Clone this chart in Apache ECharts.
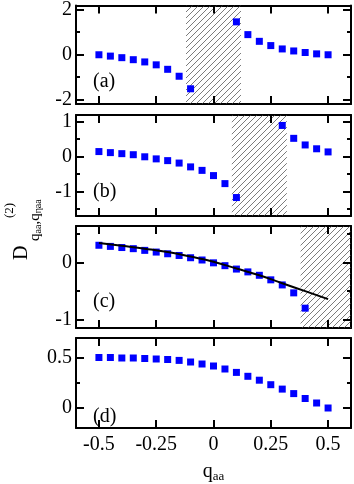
<!DOCTYPE html>
<html>
<head>
<meta charset="utf-8">
<script src="https://cdn.jsdelivr.net/npm/echarts@6/dist/echarts.min.js"></script>
<style>
  html, body { margin: 0; padding: 0; background: #fff; }
  #main { width: 354px; height: 484px; }
</style>
</head>
<body>
<div id="main"></div>
<script>
// q_aa values shared by every panel
const qaa = [-0.5, -0.45, -0.4, -0.35, -0.3, -0.25, -0.2, -0.15, -0.1, -0.05, 0,
             0.05, 0.1, 0.15, 0.2, 0.25, 0.3, 0.35, 0.4, 0.45, 0.5];

// D values (null = no point drawn)
const panelA = [0.0, -0.06, -0.13, -0.22, -0.32, -0.45, -0.65, -0.96, -1.52, null, null,
                null, 1.47, 0.90, 0.60, 0.41, 0.26, 0.17, 0.10, 0.04, 0.0];
const panelB = [0.15, 0.12, 0.09, 0.06, 0.0, -0.06, -0.11, -0.18, -0.29, -0.39, -0.54,
                -0.77, -1.17, null, null, null, 0.90, 0.53, 0.34, 0.23, 0.14];
const panelC = [0.31, 0.29, 0.27, 0.25, 0.22, 0.19, 0.16, 0.13, 0.09, 0.05, 0.0,
                -0.05, -0.11, -0.16, -0.22, -0.30, -0.39, -0.53, -0.80, null, null];
const panelD = [0.505, 0.505, 0.50, 0.50, 0.495, 0.49, 0.485, 0.476, 0.46, 0.44, 0.42,
                0.39, 0.356, 0.317, 0.278, 0.233, 0.189, 0.144, 0.095, 0.05, 0.0];

// solid curve in panel (c)
const fitX = [-0.5, -0.4, -0.3, -0.2, -0.1, 0, 0.1, 0.2, 0.3, 0.4, 0.5];
const fitY = [0.35, 0.30, 0.25, 0.19, 0.11, 0.02, -0.10, -0.22, -0.36, -0.50, -0.64];

// hatched q_aa ranges
const hatchA = [-0.12, 0.12];
const hatchB = [0.08, 0.32];
const hatchC = [0.38, 0.6];

// axes
const xRange = [-0.6, 0.6];
const xTicks = [-0.5, -0.25, 0, 0.25, 0.5];
const yRanges = [[-2.2, 2.2], [-1.7, 1.2], [-1.15, 0.65], [-0.2, 0.7]];
const yMajor = [[-2, 0, 2], [-1, 0, 1], [-1, 0], [0, 0.5]];
const yMinor = [[-1, 1], [-1.5, -0.5, 0.5], [-0.5, 0.5], [0.25]];
const panelTags = ['(a)', '(b)', '(c)', '(d)'];

const font = '"Liberation Serif", serif';
const gridBoxes = [
    { top: 4, height: 100 },
    { top: 115, height: 101 },
    { top: 226, height: 102 },
    { top: 338, height: 101 }
];

function hatchPattern() {
    const c = document.createElement('canvas');
    c.width = 6;
    c.height = 6;
    const ctx = c.getContext('2d');
    ctx.strokeStyle = '#444';
    ctx.lineWidth = 0.7;
    ctx.beginPath();
    ctx.moveTo(-1, 7); ctx.lineTo(7, -1);
    ctx.moveTo(-1, 1); ctx.lineTo(1, -1);
    ctx.moveTo(5, 7); ctx.lineTo(7, 5);
    ctx.stroke();
    return c;
}
const hatchFill = { image: hatchPattern(), repeat: 'repeat' };

function pairs(xs, ys) {
    const out = [];
    ys.forEach((v, i) => { if (v !== null) out.push([xs[i], v]); });
    return out;
}

function axisLine() {
    return { show: true, onZero: false, lineStyle: { color: '#000', width: 2 } };
}
function labels(show, values, margin) {
    return { show: show, customValues: values, margin: margin,
             fontFamily: font, fontSize: 20, color: '#000' };
}

// inward ticks on all four sides, placed through the axes' scales
function tickItem(params, api) {
    const cs = params.coordSys;
    const isY = api.value(0) === 1;
    const v = api.value(1);
    const len = api.value(2) === 1 ? 4 : 8;
    const style = { fill: '#000' };
    const out = [];
    if (!isY) {
        const px = Math.round(api.coord([v, 0])[0]);
        out.push({ type: 'rect', shape: { x: px - 1, y: cs.y + cs.height - len, width: 2, height: len }, style });
        out.push({ type: 'rect', shape: { x: px - 1, y: cs.y, width: 2, height: len }, style });
    } else {
        const py = Math.round(api.coord([0, v])[1]);
        out.push({ type: 'rect', shape: { x: cs.x, y: py - 1, width: len, height: 2 }, style });
        out.push({ type: 'rect', shape: { x: cs.x + cs.width - len, y: py - 1, width: len, height: 2 }, style });
    }
    return { type: 'group', children: out };
}

const grids = [], xAxes = [], yAxes = [], series = [];
gridBoxes.forEach((g, i) => {
    grids.push({ left: 76, right: 3, top: g.top, height: g.height });
    const isLast = i === 3;
    ['bottom', 'top'].forEach(pos => {
        const withLabel = isLast && pos === 'bottom';
        xAxes.push({
            type: 'value', gridIndex: i, position: pos, min: xRange[0], max: xRange[1],
            axisLine: axisLine(),
            axisTick: { show: false },
            axisLabel: labels(withLabel, xTicks, 7),
            splitLine: { show: false },
            name: withLabel ? '{q|q}{s|aa}' : '',
            nameLocation: 'middle', nameGap: 32,
            nameTextStyle: {
                rich: {
                    q: { fontFamily: font, fontSize: 20, color: '#000' },
                    s: { fontFamily: font, fontSize: 13, color: '#000', padding: [10, 0, 0, 0] }
                }
            }
        });
    });
    ['left', 'right'].forEach(pos => {
        yAxes.push({
            type: 'value', gridIndex: i, position: pos,
            min: yRanges[i][0], max: yRanges[i][1],
            axisLine: axisLine(),
            axisTick: { show: false },
            axisLabel: labels(pos === 'left', yMajor[i], 4),
            splitLine: { show: false }
        });
    });

    const tickData = [];
    xTicks.forEach(v => tickData.push([0, v, 0]));
    yMajor[i].forEach(v => tickData.push([1, v, 0]));
    yMinor[i].forEach(v => tickData.push([1, v, 1]));
    series.push({
        type: 'custom', xAxisIndex: i * 2, yAxisIndex: i * 2, silent: true,
        renderItem: tickItem, data: tickData, z: 5, zlevel: 1
    });
});

const hatches = [hatchA, hatchB, hatchC, null];
[panelA, panelB, panelC, panelD].forEach((vals, i) => {
    const s = {
        type: 'scatter', xAxisIndex: i * 2, yAxisIndex: i * 2,
        symbol: 'rect', symbolSize: 7, itemStyle: { color: '#0000ff', opacity: 1 },
        data: pairs(qaa, vals), z: 3
    };
    if (hatches[i]) {
        s.markArea = {
            silent: true,
            itemStyle: { color: hatchFill, opacity: 1 },
            label: { show: false },
            data: [[{ xAxis: hatches[i][0] }, { xAxis: hatches[i][1] }]]
        };
    }
    series.push(s);
});
series.push({
    type: 'line', xAxisIndex: 4, yAxisIndex: 4, smooth: true, showSymbol: false,
    lineStyle: { color: '#000', width: 2 }, data: pairs(fitX, fitY), z: 4
});

const tagTops = [82, 192, 302, 417];
const graphics = panelTags.map((t, i) => ({
    type: 'text', x: 93, y: tagTops[i],
    style: { text: t, fontFamily: font, fontSize: 20, fill: '#000',
             textAlign: 'left', textVerticalAlign: 'middle' }
}));
// rotated y-axis title: D^(2)_{q_aa,q_ηaa}
graphics.push({
    type: 'text', x: 22, y: 260, rotation: Math.PI / 2,
    style: { text: 'D', fontFamily: font, fontSize: 20, fill: '#000',
             textAlign: 'left', textVerticalAlign: 'middle' }
});
graphics.push({
    type: 'text', x: 10, y: 218, rotation: Math.PI / 2,
    style: { text: '(2)', fontFamily: font, fontSize: 13, fill: '#000',
             textAlign: 'left', textVerticalAlign: 'middle' }
});
graphics.push({
    type: 'text', x: 35, y: 241, rotation: Math.PI / 2,
    style: {
        text: '{q|q}{s|aa}{q|,q}{s|ηaa}',
        textAlign: 'left', textVerticalAlign: 'middle',
        rich: {
            q: { fontFamily: font, fontSize: 15, fill: '#000' },
            s: { fontFamily: font, fontSize: 10, fill: '#000', padding: [7, 0, 0, 0] }
        }
    }
});

const chart = echarts.init(document.getElementById('main'));
chart.setOption({
    animation: false,
    grid: grids,
    xAxis: xAxes,
    yAxis: yAxes,
    series: series,
    graphic: graphics
});
</script>
</body>
</html>
